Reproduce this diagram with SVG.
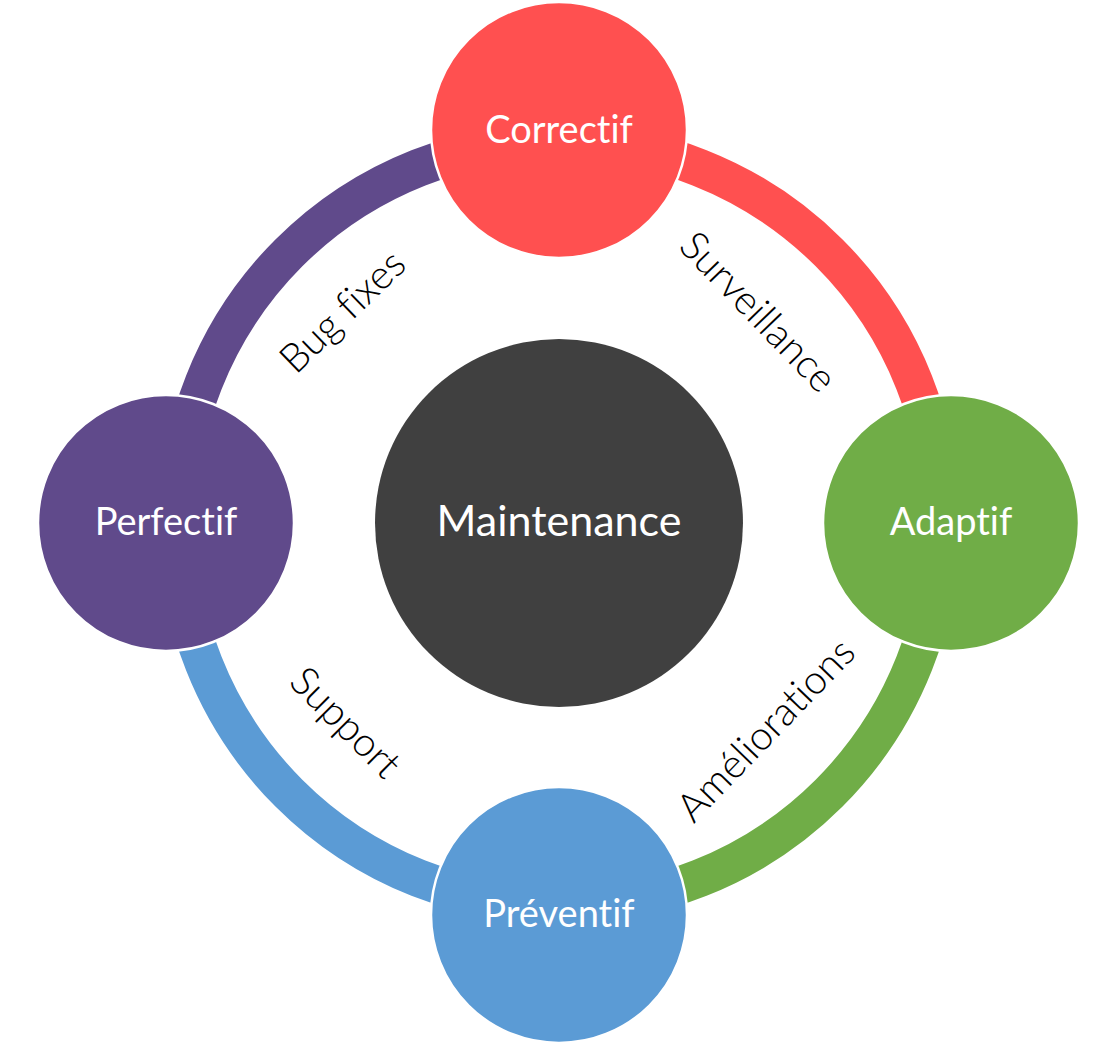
<svg xmlns="http://www.w3.org/2000/svg" width="1095" height="1046" viewBox="0 0 1095 1046">
<style>
.arc{fill:none;stroke-width:38;stroke-linecap:butt}
.node{stroke:#fff;stroke-width:2.5}
.nl{font-family:Lato,"Liberation Sans",sans-serif;font-size:38px;fill:#fff;text-anchor:middle;font-variant-ligatures:none}
.al{font-family:Lato,"Liberation Sans",sans-serif;font-weight:300;font-size:40px;fill:#000;text-anchor:middle;font-variant-ligatures:none}
</style>
<rect width="1095" height="1046" fill="#fff"/>
<g id="connectors">
<path class="arc" stroke="#FF5050" d="M 559 141 A 382 382 0 0 1 941 523"/>
<path class="arc" stroke="#70AD47" d="M 941 523 A 382 382 0 0 1 559 905"/>
<path class="arc" stroke="#5B9BD5" d="M 559 905 A 382 382 0 0 1 177 523"/>
<path class="arc" stroke="#604A8B" d="M 177 523 A 382 382 0 0 1 559 141"/>
<text class="al" transform="translate(757,313) rotate(46)" y="12">Surveillance</text>
<text class="al" transform="translate(767,731) rotate(-46)" y="12">Améliorations</text>
<text class="al" transform="translate(343,725) rotate(45)" y="10">Support</text>
<text class="al" transform="translate(345,314) rotate(-44)" y="10">Bug fixes</text>
</g>
<g id="maintenance">
<circle cx="559" cy="523" r="184" fill="#404040"/>
<text class="nl" x="559" y="536" style="font-size:43px">Maintenance</text>
</g>
<g id="correctif">
<circle class="node" cx="559" cy="130" r="128" fill="#FF5050"/>
<text class="nl" x="559" y="143">Correctif</text>
</g>
<g id="adaptif">
<circle class="node" cx="951" cy="523" r="128" fill="#70AD47"/>
<text class="nl" x="951" y="535">Adaptif</text>
</g>
<g id="preventif">
<circle class="node" cx="559" cy="915" r="128" fill="#5B9BD5"/>
<text class="nl" x="559" y="927">Préventif</text>
</g>
<g id="perfectif">
<circle class="node" cx="166" cy="523" r="128" fill="#604A8B"/>
<text class="nl" x="166" y="535">Perfectif</text>
</g>
</svg>
